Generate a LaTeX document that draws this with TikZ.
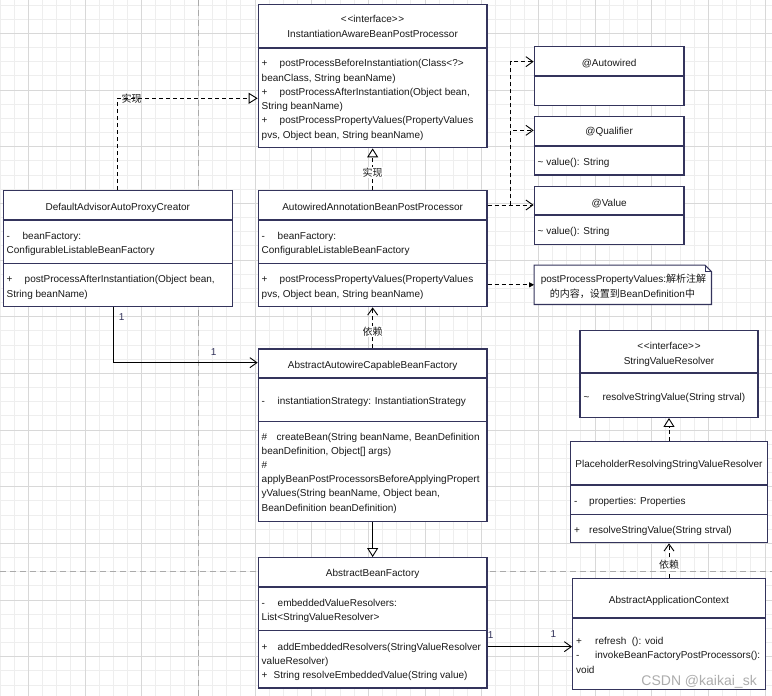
\documentclass[tikz,border=0pt]{standalone}
\usepackage{fontspec}
\setmainfont{Liberation Sans}
\newfontfamily\cjk{Noto Sans CJK SC}
\usetikzlibrary{arrows.meta,fit,calc}
\definecolor{boxcol}{RGB}{52,52,92}
\definecolor{txtcol}{RGB}{25,25,25}
\definecolor{gridminor}{RGB}{238,238,238}
\definecolor{gridmajor}{RGB}{216,216,216}
\definecolor{pagebrk}{RGB}{170,170,170}
\newcommand{\pf}[2]{\makebox[#1pt][l]{#2}}
\newcommand{\bsep}[3]{\draw[#3] (#1.west |- 0,#2) -- (#1.east |- 0,#2);}
\newcommand{\intf}{<\kern0.8pt<interface>\kern0.8pt>}
\begin{document}
\begin{tikzpicture}[x=1pt,y=-1pt,
  font=\fontsize{10}{12}\selectfont,
  box/.style={draw=boxcol, line width=1.3pt, fill=white, inner sep=0pt},
  hsep/.style={draw=boxcol, line width=2pt},
  msep/.style={draw=boxcol, line width=1.2pt},
  t/.style={inner sep=0pt, anchor=base west, text=txtcol},
  tc/.style={inner sep=0pt, anchor=base, text=txtcol},
  conn/.style={draw=black, line width=0.9pt},
  dsh/.style={conn, dash pattern=on 4pt off 3pt},
  tri/.style={-{Triangle[open,length=9pt,width=11pt,fill=white]}},
  barb/.style={-{Straight Barb[length=7pt,width=10pt]}},
  fillarr/.style={-{Triangle[length=5pt,width=5pt]}},
  lab/.style={font=\cjk\fontsize{10}{12}\selectfont, text=txtcol, inner sep=1pt},
  num/.style={inner sep=0pt, text=boxcol}
]
\useasboundingbox (0,0) rectangle (772,696);
\fill[white] (0,0) rectangle (772,696);
% grid
\foreach \i in {0,...,54} \draw[gridminor, line width=0.8pt] ({\i*14.1667},0) -- ({\i*14.1667},696);
\foreach \i in {0,...,48} \draw[gridminor, line width=0.8pt] (0,{4.97+\i*14.1667}) -- (772,{4.97+\i*14.1667});
\foreach \i in {0,...,13} \draw[gridmajor, line width=0.9pt] ({28.333+\i*56.667},0) -- ({28.333+\i*56.667},696);
\foreach \i in {0,...,11} \draw[gridmajor, line width=0.9pt] (0,{33.33+\i*56.667}) -- (772,{33.33+\i*56.667});
\draw[pagebrk, dash pattern=on 6pt off 4pt, line width=1pt] (198.3,0) -- (198.3,696);
\draw[pagebrk, dash pattern=on 6pt off 4pt, line width=1pt] (0,571.7) -- (772,571.7);

% ---------- boxes ----------
\node[box, fit={(258.3,4.3)(487,147.7)}] (iabp) {};
\bsep{iabp}{47.7}{hsep}
\node[tc] at (372.65,23) {\intf};
\node[tc] (iabpT) at (372.65,37) {InstantiationAwareBeanPostProcessor};
\node[t] at (261.5,66) {\pf{18}{+}postProcessBeforeInstantiation(Class<?>};
\node[t] at (261.5,81) {beanClass, String beanName)};
\node[t] at (261.5,95) {\pf{18}{+}postProcessAfterInstantiation(Object bean,};
\node[t] at (261.5,109) {String beanName)};
\node[t] at (261.5,123) {\pf{18}{+}postProcessPropertyValues(PropertyValues};
\node[t] at (261.5,138) {pvs, Object bean, String beanName)};

\node[box, fit={(3.3,190.7)(232.3,306.7)}] (dapc) {};
\bsep{dapc}{219.7}{hsep}
\bsep{dapc}{263.7}{msep}
\node[tc] (dapcT) at (117.8,210.4) {DefaultAdvisorAutoProxyCreator};
\node[t] at (6.5,239.4) {\pf{16}{-}beanFactory:};
\node[t] at (6.5,253) {ConfigurableListableBeanFactory};
\node[t] at (6.5,282) {\pf{18}{+}postProcessAfterInstantiation(Object bean,};
\node[t] at (6.5,297) {String beanName)};

\node[box, fit={(258.3,190.7)(487,306.7)}] (aabp) {};
\bsep{aabp}{219.7}{hsep}
\bsep{aabp}{263.7}{msep}
\node[tc] (aabpT) at (372.65,210.4) {AutowiredAnnotationBeanPostProcessor};
\node[t] at (261.5,239.4) {\pf{16}{-}beanFactory:};
\node[t] at (261.5,253) {ConfigurableListableBeanFactory};
\node[t] at (261.5,282) {\pf{18}{+}postProcessPropertyValues(PropertyValues};
\node[t] at (261.5,297) {pvs, Object bean, String beanName)};

\node[box, fit={(534.3,46.7)(684,105.3)}] (autowired) {};
\bsep{autowired}{76}{hsep}
\node[tc] (autowiredT) at (609.15,66) {@Autowired};

\node[box, fit={(534.3,116.7)(684,175)}] (qualifier) {};
\bsep{qualifier}{146}{hsep}
\node[tc] (qualifierT) at (609.15,134.7) {@Qualifier};
\node[t] at (537.5,165) {\textasciitilde{} value(): String};

\node[box, fit={(534.3,186.7)(684,244.7)}] (value) {};
\bsep{value}{215.3}{hsep}
\node[tc] (valueT) at (609.15,206) {@Value};
\node[t] at (537.5,234) {\textasciitilde{} value(): String};

\node[inner sep=0pt, fit={(534.3,265.3)(711.3,304.3)}] (note) {};
\draw[draw=boxcol, line width=1.1pt, fill=white] (note.north west) -- ([xshift=-6.5pt]note.north east) -- ([yshift=-6.5pt]note.north east) -- (note.south east) -- (note.south west) -- cycle;
\draw[draw=boxcol, line width=0.8pt] ([xshift=-6.5pt]note.north east) -- ([xshift=-6.5pt,yshift=-6.5pt]note.north east) -- ([yshift=-6.5pt]note.north east);
\node[tc] at (623.5,282) {postProcessPropertyValues:{\cjk 解析注解}};
\node[tc] at (622.5,297) {{\cjk 的内容，设置到}BeanDefinition{\cjk 中}};

\node[box, fit={(258.3,349)(487,521.7)}] (aacbf) {};
\bsep{aacbf}{378}{hsep}
\bsep{aacbf}{421.3}{msep}
\node[tc] (aacbfT) at (372.65,368) {AbstractAutowireCapableBeanFactory};
\node[t] at (261.5,404.4) {\pf{16}{-}instantiationStrategy: InstantiationStrategy};
\node[t] at (261.5,440.4) {\pf{15}{\#}createBean(String beanName, BeanDefinition};
\node[t] at (261.5,454.5) {beanDefinition, Object[] args)};
\node[t] at (261.5,468.6) {\#};
\node[t] at (261.5,482.8) {applyBeanPostProcessorsBeforeApplyingPropert};
\node[t] at (261.5,496.9) {yValues(String beanName, Object bean,};
\node[t] at (261.5,511) {BeanDefinition beanDefinition)};

\node[box, fit={(258.3,557.7)(487,688)}] (abf) {};
\bsep{abf}{586.7}{hsep}
\bsep{abf}{630.7}{msep}
\node[tc] (abfT) at (372.65,576) {AbstractBeanFactory};
\node[t] at (261.5,606.4) {\pf{16}{-}embeddedValueResolvers:};
\node[t] at (261.5,620) {List<StringValueResolver>};
\node[t] at (261.5,650.4) {\pf{16}{+}addEmbeddedResolvers(StringValueResolver};
\node[t] at (261.5,664) {valueResolver)};
\node[t] at (261.5,678.4) {\pf{12}{+}String resolveEmbeddedValue(String value)};

\node[box, fit={(580,330.7)(758,417.3)}] (svr) {};
\bsep{svr}{373.3}{hsep}
\node[tc] at (669,349.7) {\intf};
\node[tc] (svrT) at (669,364.4) {StringValueResolver};
\node[t] at (583.3,400.4) {\pf{19}{\textasciitilde}resolveStringValue(String strval)};

\node[box, fit={(570.7,441.7)(767.3,542.7)}] (prsvr) {};
\bsep{prsvr}{484.7}{hsep}
\bsep{prsvr}{514.7}{msep}
\node[tc] (prsvrT) at (669,467.4) {PlaceholderResolvingStringValueResolver};
\node[t] at (574,504.4) {\pf{15}{-}properties: Properties};
\node[t] at (574,533) {\pf{15}{+}resolveStringValue(String strval)};

\node[box, fit={(572.7,578.7)(765.3,689.3)}] (aac) {};
\bsep{aac}{618.3}{hsep}
\node[tc] (aacT) at (669,603) {AbstractApplicationContext};
\node[t] at (576,644.4) {\pf{19}{+}refresh\ \ (): void};
\node[t] at (576,658.4) {\pf{19}{-}invokeBeanFactoryPostProcessors():};
\node[t] at (576,673) {void};

% ---------- connectors ----------
\draw[dsh, tri] (dapc.north) |- ([yshift=-22.3pt]iabp.west);
\node[lab] at (131.7,98.3) {实现};
\draw[dsh, tri] (aabp.north) -- (iabp.south);
\node[lab, fill=white] at (372.65,172.7) {实现};

\coordinate (aS) at ([yshift=43.7pt]aabp.east);
\coordinate (aJ) at ([xshift=23pt]aS);
\draw[dsh, barb] (aS) -- (aS -| value.west);
\draw[dsh, barb] (aJ) |- ([yshift=-14.3pt]qualifier.north west);
\draw[dsh, barb] (aJ) |- ([yshift=-15.6pt]autowired.north west);

\draw[dsh, fillarr] (aabp.east |- note.west) -- (note.west);

\draw[conn, barb] ([xshift=-4.5pt]dapc.south) |- ([yshift=-14.3pt]aacbf.north west);
\node[num] at (121.7,316.7) {1};
\node[num] at (213.7,352.3) {1};

\draw[dsh, barb] (aacbf.north) -- (aabp.south);
\node[lab, fill=white] at (372.65,331.7) {依赖};

\draw[conn, tri] (aacbf.south) -- (abf.north);

\draw[dsh, tri] (prsvr.north) -- (svr.south);
\draw[dsh, barb] (aac.north) -- (prsvr.south);
\node[lab, fill=white] at (669,565) {依赖};

\draw[conn, barb] ([yshift=-89.6pt]abf.north east) -- ([yshift=-89.6pt]abf.north east -| aac.west);
\node[num] at (490.7,635) {1};
\node[num] at (553.3,634.3) {1};

\node[anchor=base east, inner sep=0pt, text=black!32, font=\fontsize{14}{16}\selectfont] at (757,685) {CSDN @kaikai\_sk};
\end{tikzpicture}
\end{document}
